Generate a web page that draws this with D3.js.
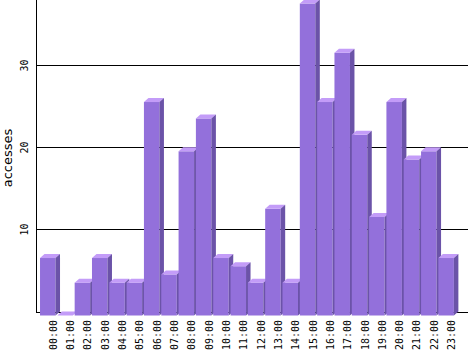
<!DOCTYPE html>
<html lang="en">
<head>
<meta charset="UTF-8"/>
<title>Accesses per hour</title>
<script src="https://d3js.org/d3.v7.min.js"></script>
<style>
	body { margin: 0; background: #fff; }
	.axis text { font-family: "DejaVu Sans Mono", monospace; font-size: 10px; fill: #000; }
	.axis path, .axis line { fill: none; stroke: #000; shape-rendering: crispEdges; }
	.ylabel { font-family: "DejaVu Sans", sans-serif; font-size: 13px; fill: #000; }
	.front { fill: #9370db; }
	.top { fill: #c39cf8; }
	.side { fill: #6b53a8; }
</style>
</head>
<body>
<div id="chart"></div>
<script>
var hours = ["00:00","01:00","02:00","03:00","04:00","05:00","06:00","07:00","08:00","09:00","10:00","11:00",
	"12:00","13:00","14:00","15:00","16:00","17:00","18:00","19:00","20:00","21:00","22:00","23:00"];
var accesses = [7, 0, 4, 7, 4, 4, 26, 5, 20, 24, 7, 6, 4, 13, 4, 38, 26, 32, 22, 12, 26, 19, 20, 7];
var yTicks = [10, 20, 30];

var w = 468, h = 351;
var left = 36;   // y axis position
var dx = 4.5, dy = 4; // 3d depth

var svg = d3.select("#chart").append("svg")
	.attr("width", w)
	.attr("height", h);

var xScale = d3.scaleBand()
	.domain(hours)
	.range([38.2, 455.7])
	.padding(0.105);

var yScale = d3.scaleLinear()
	.domain([0, 38])
	.range([311.5, -0.5]);

var y0 = Math.round(yScale(0)) + 0.5;

// gridlines + left axis
var yAxis = d3.axisLeft(yScale)
	.tickValues(yTicks)
	.tickSize(-(w - left))
	.tickPadding(0);

var gy = svg.append("g")
	.attr("class", "axis")
	.attr("transform", "translate(" + (left + 0.5) + ",0)")
	.call(yAxis);
gy.select(".domain").remove();
gy.selectAll(".tick")
	.attr("transform", function(d) { return "translate(0," + (Math.round(yScale(d)) + 0.5) + ")"; });
gy.selectAll(".tick text")
	.attr("transform", "rotate(-90)")
	.attr("x", 0)
	.attr("y", -9)
	.attr("dy", 0)
	.style("text-anchor", "middle");

svg.append("line")
	.attr("x1", left + 0.5).attr("x2", left + 0.5)
	.attr("y1", 0).attr("y2", y0)
	.style("stroke", "#000");
svg.append("line")
	.attr("x1", left).attr("x2", w)
	.attr("y1", y0).attr("y2", y0)
	.style("stroke", "#000");

// bars
var bw = xScale.bandwidth();
var bars = svg.selectAll(".bar")
	.data(hours.map(function(hr, i) { return { hour: hr, value: accesses[i] }; }))
	.enter().append("g")
	.attr("class", "bar");

bars.append("rect")
	.attr("class", "front")
	.attr("x", function(d) { return xScale(d.hour); })
	.attr("y", function(d) { return yScale(d.value) + dy; })
	.attr("width", bw)
	.attr("height", function(d) { return yScale(0) - yScale(d.value); });

bars.append("polygon")
	.attr("class", "top")
	.attr("points", function(d) {
		var x = xScale(d.hour), yt = yScale(d.value);
		return [[x, yt + dy], [x + dx, yt], [x + bw + dx, yt], [x + bw, yt + dy]].join(" ");
	});

bars.append("polygon")
	.attr("class", "side")
	.attr("points", function(d) {
		var x = xScale(d.hour), yt = yScale(d.value), yb = yScale(0);
		return [[x + bw, yt + dy], [x + bw + dx, yt], [x + bw + dx, yb], [x + bw, yb + dy]].join(" ");
	});

// hour labels
var xAxis = d3.axisBottom(xScale).tickSize(0).tickPadding(0);
var gx = svg.append("g")
	.attr("class", "axis")
	.attr("transform", "translate(" + (dx + 1) + ",0)")
	.call(xAxis);
gx.select(".domain").remove();
gx.selectAll(".tick text")
	.attr("transform", "rotate(-90)")
	.attr("x", -320)
	.attr("y", 0)
	.attr("dy", "0.35em")
	.style("text-anchor", "end");

svg.append("text")
	.attr("class", "ylabel")
	.attr("transform", "translate(12,158) rotate(-90)")
	.style("text-anchor", "middle")
	.text("accesses");
</script>
</body>
</html>
